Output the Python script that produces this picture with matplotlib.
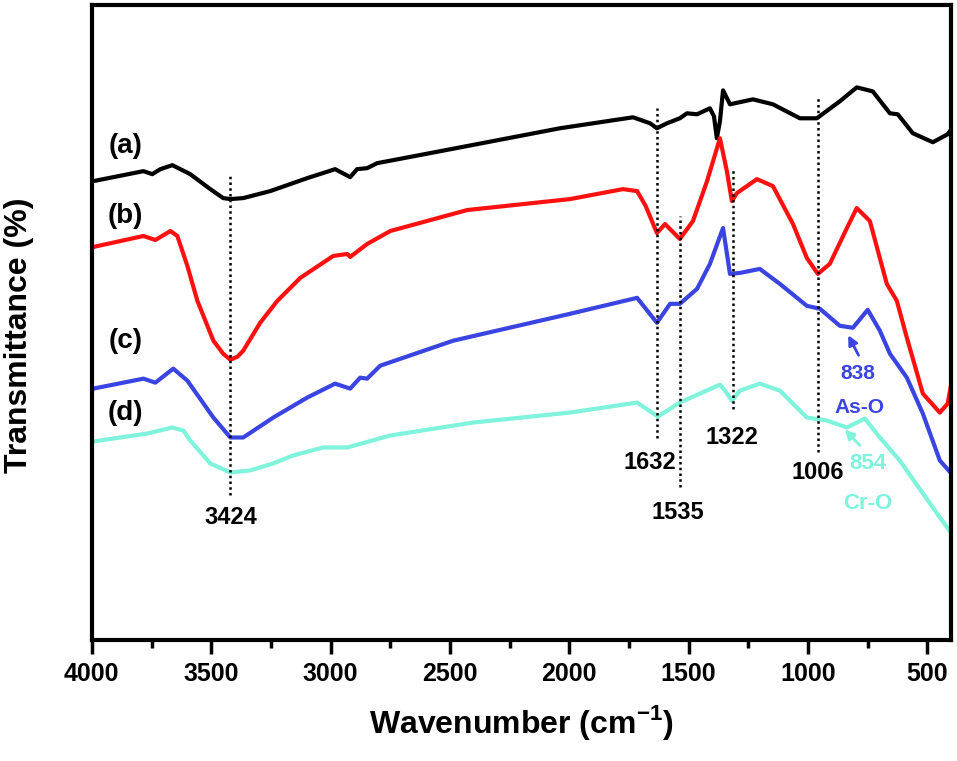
import numpy as np
import matplotlib.pyplot as plt

plt.rcParams['font.family'] = ['Liberation Sans', 'DejaVu Sans']
plt.rcParams['font.weight'] = 'bold'
plt.rcParams['mathtext.fontset'] = 'custom'
plt.rcParams['mathtext.bf'] = 'Liberation Sans:bold'
plt.rcParams['mathtext.rm'] = 'Liberation Sans:bold'

# FTIR spectra, wavenumber (cm-1) and transmittance (a.u., offset)
wn_a = [3994, 3784, 3747, 3713, 3663, 3588, 3504, 3450, 3420, 3366, 3253, 3098, 2981, 2918,
        2889, 2847, 2805, 2541, 2039, 1733, 1662, 1633, 1591, 1537, 1507, 1465, 1411, 1394,
        1382, 1369, 1356, 1327, 1231, 1147, 1034, 963, 867, 796, 729, 657, 624, 561, 477, 415, 400]
t_a = [460, 470, 467, 472, 476, 467, 452, 443, 442, 443, 450, 463, 472, 464,
       472, 473, 478, 490, 513, 524, 518, 513, 518, 523, 528, 527, 533, 525,
       503, 520, 551, 537, 542, 537, 523, 523, 540, 554, 550, 528, 527, 508, 499, 507, 512]

wn_b = [3994, 3784, 3734, 3671, 3642, 3600, 3558, 3491, 3450, 3420, 3390, 3366, 3295, 3223,
        3127, 2989, 2930, 2918, 2847, 2750, 2428, 1997, 1775, 1716, 1680, 1633, 1599, 1537,
        1482, 1423, 1369, 1340, 1319, 1298, 1214, 1147, 1063, 1005, 959, 909, 837, 796, 741,
        670, 628, 586, 519, 448, 415, 400]
t_b = [394, 405, 401, 410, 405, 375, 340, 300, 287, 281, 284, 290, 318, 340,
       363, 385, 387, 384, 397, 410, 431, 442, 452, 450, 435, 408, 417, 402,
       420, 460, 503, 470, 440, 448, 462, 455, 417, 383, 367, 377, 413, 433, 420,
       357, 340, 303, 247, 228, 237, 257]

wn_c = [3994, 3784, 3734, 3659, 3600, 3491, 3420, 3366, 3240, 3098, 2981, 2918, 2876, 2847,
        2792, 2487, 1997, 1716, 1633, 1578, 1537, 1465, 1411, 1356, 1327, 1285, 1202, 1118,
        1005, 950, 867, 812, 750, 699, 657, 586, 519, 448, 400]
t_c = [252, 262, 258, 272, 260, 223, 203, 203, 223, 243, 257, 252, 263, 262,
       275, 300, 327, 343, 318, 337, 337, 352, 377, 413, 367, 368, 372, 357,
       335, 332, 315, 313, 331, 310, 287, 263, 227, 180, 167]

wn_d = [3994, 3768, 3663, 3617, 3588, 3504, 3420, 3337, 3240, 3157, 3031, 2930, 2750, 2403,
        1997, 1716, 1629, 1537, 1453, 1369, 1348, 1319, 1285, 1202, 1118, 1005, 921, 837,
        762, 699, 616, 519, 448, 400]
t_d = [199, 207, 213, 210, 200, 177, 168, 170, 177, 185, 193, 193, 205, 218,
       228, 238, 224, 238, 247, 256, 250, 240, 250, 257, 250, 223, 220, 213,
       222, 203, 180, 147, 123, 107]

curve_names = ['(a)', '(b)', '(c)', '(d)']
colors = ['black', '#ff1010', '#3a44e0', '#7ff3dc']

# dotted marker lines: position, top, bottom, label
peak_pos = [3420, 1633, 1537, 1316, 959]
peak_top = [468, 533, 425, 472, 545]
peak_bottom = [145, 202, 153, 232, 188]
peak_labels = ['3424', '1632', '1535', '1322', '1006']

fig = plt.figure(figsize=(9.57, 7.61), dpi=100)
ax = fig.add_axes([0.096, 0.159, 0.898, 0.835])

for wn, t, c in zip([wn_a, wn_b, wn_c, wn_d], [t_a, t_b, t_c, t_d], colors):
    ax.plot(wn, t, color=c, lw=3, solid_joinstyle='round')

for x, y1, y2 in zip(peak_pos, peak_top, peak_bottom):
    ax.plot([x, x], [y2, y1], color='black', lw=1.8, ls=(0, (1, 1.3)))

# peak labels
ax.text(3420, 123, peak_labels[0], ha='center', va='center', fontsize=17)
ax.text(1662, 178, peak_labels[1], ha='center', va='center', fontsize=17)
ax.text(1545, 128, peak_labels[2], ha='center', va='center', fontsize=17)
ax.text(1319, 203, peak_labels[3], ha='center', va='center', fontsize=17)
ax.text(959, 168, peak_labels[4], ha='center', va='center', fontsize=17)

# curve names
for name, y in zip(curve_names, [495, 425, 300, 228]):
    ax.text(3860, y, name, ha='center', va='center', fontsize=20)

# band assignments
ax.annotate('', xy=(837, 308), xytext=(783, 283),
            arrowprops=dict(arrowstyle='-|>', color=colors[2], lw=2, mutation_scale=14))
ax.text(791, 267, '838', color=colors[2], ha='center', va='center', fontsize=15)
ax.text(783, 233, 'As-O', color=colors[2], ha='center', va='center', fontsize=15)
ax.annotate('', xy=(854, 213), xytext=(775, 193),
            arrowprops=dict(arrowstyle='-|>', color=colors[3], lw=2, mutation_scale=14))
ax.text(750, 177, '854', color=colors[3], ha='center', va='center', fontsize=16)
ax.text(750, 137, 'Cr-O', color=colors[3], ha='center', va='center', fontsize=16)

ax.set_xlim(4000, 400)
ax.set_ylim(0, 637)
ax.set_xticks([4000, 3500, 3000, 2500, 2000, 1500, 1000, 500])
ax.set_xticks(np.arange(3750, 400, -500), minor=True)
ax.set_yticks([])
ax.tick_params(axis='x', which='major', direction='out', length=10, width=2.5, labelsize=18, pad=6)
ax.tick_params(axis='x', which='minor', direction='out', length=6, width=2.5)
for s in ax.spines.values():
    s.set_linewidth(3)

ax.set_xlabel('Wavenumber (cm$^{\\mathbf{-1}}$)', fontsize=23, fontweight='bold', labelpad=12)
fig.text(0.02, 0.56, 'Transmittance (%)', rotation=90, ha='center', va='center',
         fontsize=23, fontweight='bold')

fig.savefig('out.png', dpi=100)
